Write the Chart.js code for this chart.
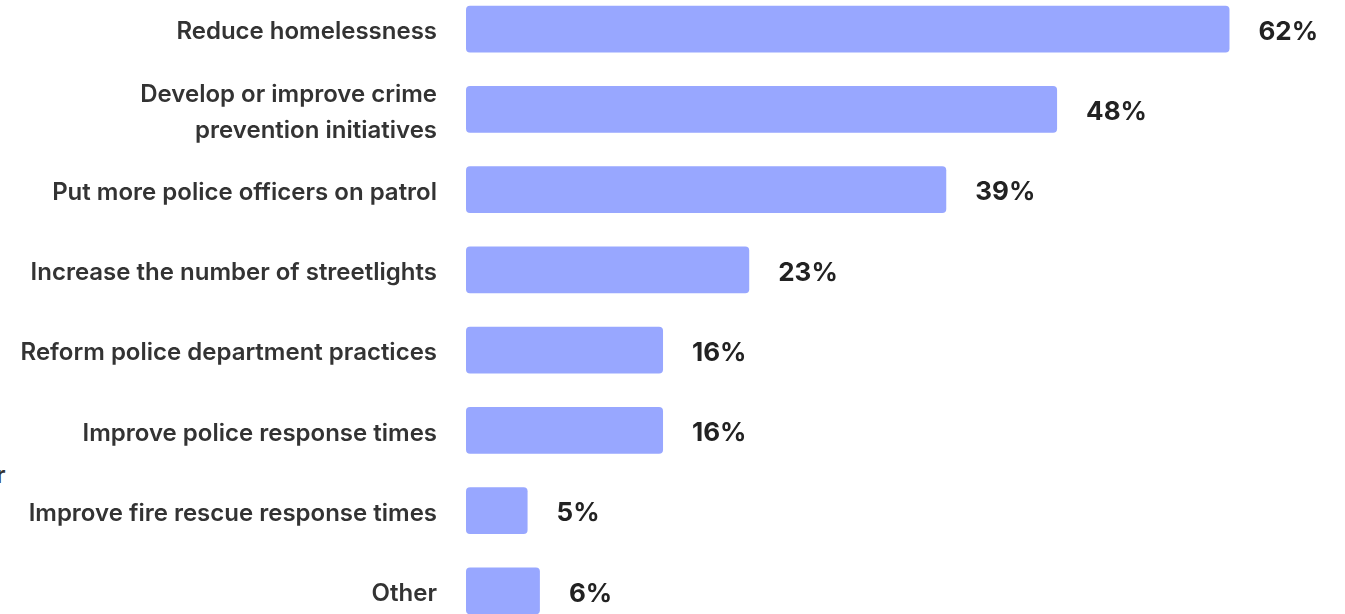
<!DOCTYPE html>
<html>
<head>
<meta charset="utf-8">
<script src="https://cdn.jsdelivr.net/npm/chart.js@4/dist/chart.umd.min.js"></script>
<style>
  html, body { margin: 0; padding: 0; background: #ffffff; overflow: hidden; width: 1345px; height: 614px; }
  #wrap { position: absolute; left: 0; top: -11px; width: 1345px; height: 642px; }
  #stray { position: absolute; left: -4px; top: 460px; font: 600 24px Inter, sans-serif; color: #333; }
</style>
</head>
<body>
<div id="stray">r</div>
<div id="wrap"><canvas id="c" width="1345" height="642"></canvas></div>
<script>
const categories = [
  "Reduce homelessness",
  ["Develop or improve crime", "prevention initiatives"],
  "Put more police officers on patrol",
  "Increase the number of streetlights",
  "Reform police department practices",
  "Improve police response times",
  "Improve fire rescue response times",
  "Other"
];
const values = [62, 48, 39, 23, 16, 16, 5, 6];
const valueLabels = ["62%", "48%", "39%", "23%", "16%", "16%", "5%", "6%"];

const valueLabelPlugin = {
  id: 'valueLabels',
  afterDatasetsDraw(chart) {
    const ctx = chart.ctx;
    const meta = chart.getDatasetMeta(0);
    ctx.save();
    ctx.font = '700 26px Inter, sans-serif';
    ctx.fillStyle = '#222222';
    ctx.textAlign = 'left';
    ctx.textBaseline = 'middle';
    meta.data.forEach((bar, i) => {
      ctx.fillText(valueLabels[i], bar.x + 29, bar.y + 3);
    });
    ctx.restore();
  }
};

new Chart(document.getElementById('c'), {
  type: 'bar',
  data: {
    labels: categories,
    datasets: [{
      data: values,
      backgroundColor: '#98a7ff',
      borderRadius: 4,
      borderSkipped: false,
      barPercentage: 1,
      categoryPercentage: 0.58
    }]
  },
  options: {
    indexAxis: 'y',
    responsive: false,
    animation: false,
    layout: { padding: { left: 0, right: 17, top: 0, bottom: 0 } },
    plugins: { legend: { display: false }, tooltip: { enabled: false } },
    scales: {
      x: { display: false, min: 0, max: 70 },
      y: {
        grid: { display: false, drawTicks: false },
        border: { display: false },
        afterFit(scale) { scale.width = 466; scale.paddingTop = 0; scale.paddingBottom = 0; },
        ticks: {
          padding: 29,
          labelOffset: 3,
          color: '#333333',
          font: { family: 'Inter', size: 24, weight: '600', lineHeight: 1.5 }
        }
      }
    }
  },
  plugins: [valueLabelPlugin]
});
</script>
</body>
</html>
